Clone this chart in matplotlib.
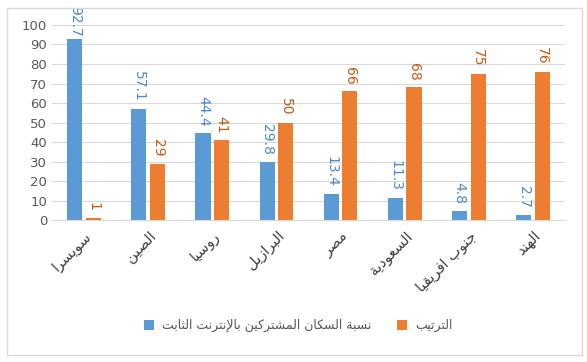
import matplotlib
matplotlib.use("Agg")
import matplotlib.pyplot as plt
import numpy as np
from matplotlib.patches import Rectangle

# data
countries = ["سويسرا", "الصين", "روسيا", "البرازيل", "مصر", "السعودية", "جنوب افريقيا", "الهند"]
internet_share = [92.7, 57.1, 44.4, 29.8, 13.4, 11.3, 4.8, 2.7]
rank = [1, 29, 41, 50, 66, 68, 75, 76]
series_names = ["نسبة السكان المشتركين بالإنترنت الثابت", "الترتيب"]

# small arabic shaper (matplotlib has no shaping / bidi)
FORMS = {
    'ا': (0xFE8D, 2), 'إ': (0xFE87, 2), 'ب': (0xFE8F, 4), 'ة': (0xFE93, 2),
    'ت': (0xFE95, 4), 'ث': (0xFE99, 4), 'ج': (0xFE9D, 4), 'د': (0xFEA9, 2),
    'ر': (0xFEAD, 2), 'ز': (0xFEAF, 2), 'س': (0xFEB1, 4), 'ش': (0xFEB5, 4),
    'ص': (0xFEB9, 4), 'ع': (0xFEC9, 4), 'ف': (0xFED1, 4), 'ق': (0xFED5, 4),
    'ك': (0xFED9, 4), 'ل': (0xFEDD, 4), 'م': (0xFEE1, 4), 'ن': (0xFEE5, 4),
    'ه': (0xFEE9, 4), 'و': (0xFEED, 2), 'ي': (0xFEF1, 4),
    'LA': (0xFEFB, 2), 'LI': (0xFEF9, 2),
}


def shape(s):
    chars = []
    i = 0
    while i < len(s):
        if s[i] == 'ل' and i + 1 < len(s) and s[i + 1] in 'اإ':
            chars.append('LA' if s[i + 1] == 'ا' else 'LI')
            i += 2
        else:
            chars.append(s[i])
            i += 1
    out = []
    for k, c in enumerate(chars):
        if c not in FORMS:
            out.append(c)
            continue
        base, n = FORMS[c]
        prev = chars[k - 1] if k > 0 else None
        nxt = chars[k + 1] if k + 1 < len(chars) else None
        jp = prev in FORMS and FORMS[prev][1] == 4
        jn = n == 4 and nxt in FORMS
        if jp and jn:
            idx = 3
        elif jp:
            idx = 1
        elif jn:
            idx = 2
        else:
            idx = 0
        out.append(chr(base + idx))
    return "".join(out[::-1])


blue = "#5B9BD5"
orange = "#ED7D31"
gray = "#595959"

plt.rcParams['font.family'] = ['DejaVu Sans']

fig = plt.figure(figsize=(5.87, 3.62), dpi=100)
ax = fig.add_axes([0.0886, 0.392, 0.874, 0.539])

x = np.arange(len(countries))
w = 0.235
off = 0.145
b1 = ax.bar(x - off, internet_share, w, color=blue, label=shape(series_names[0]), zorder=2)
b2 = ax.bar(x + off, rank, w, color=orange, label=shape(series_names[1]), zorder=2)

for rect, v in zip(b1, internet_share):
    gap = 1.5 if v > 90 else 5
    ax.annotate(f"{v:g}", (rect.get_x() + rect.get_width() / 2, rect.get_height()),
                xytext=(0, gap), textcoords="offset points", rotation=-90,
                ha="center", va="bottom", color="#4A8AC9", fontsize=10)
for rect, v in zip(b2, rank):
    ax.annotate(f"{v:g}", (rect.get_x() + rect.get_width() / 2, rect.get_height()),
                xytext=(0, 5), textcoords="offset points", rotation=-90,
                ha="center", va="bottom", color="#C55A11", fontsize=10)

ax.set_ylim(0, 100)
ax.set_xlim(-0.5, len(countries) - 0.5)
ax.set_yticks(range(0, 101, 10))
ax.yaxis.grid(True, color="#D9D9D9", linewidth=0.8, zorder=0)
ax.set_axisbelow(True)
for s in ["top", "right", "left"]:
    ax.spines[s].set_visible(False)
ax.spines["bottom"].set_color("#D9D9D9")
ax.tick_params(axis="both", length=0, colors=gray, labelsize=9.5)
ax.tick_params(axis="x", pad=6)
ax.set_xticks(x)
ax.set_xticklabels([shape(c) for c in countries], rotation=45, ha="right",
                   rotation_mode="anchor", fontsize=10.5, color="#404040")

leg = fig.legend(loc="center", bbox_to_anchor=(0.508, 0.1), ncol=2, frameon=False,
                 fontsize=9, handlelength=0.8, handleheight=0.8,
                 columnspacing=2.1, handletextpad=0.6)
for t in leg.get_texts():
    t.set_color(gray)

fig.patches.append(Rectangle((7 / 587, 1 - 355 / 362), 575 / 587, 347 / 362,
                             transform=fig.transFigure, fill=False,
                             edgecolor="#D9D9D9", linewidth=1))

fig.savefig("out.png", dpi=100)
